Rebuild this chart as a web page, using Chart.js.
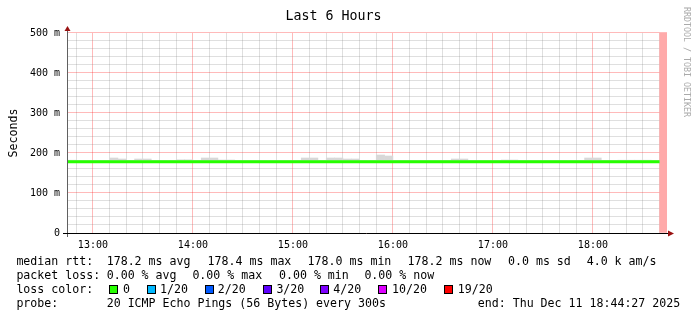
<!DOCTYPE html>
<html>
<head>
<meta charset="utf-8">
<script src="https://cdn.jsdelivr.net/npm/chart.js@4/dist/chart.umd.min.js"></script>
<style>
body { margin: 0; background: #fff; }
#wrap { position: relative; width: 697px; height: 321px; overflow: hidden; }
#graph { position: absolute; left: 0; top: 0; }
.t { position: absolute; font-family: "DejaVu Sans Mono", monospace; font-size: 11.6px; line-height: 14px; white-space: pre; color: #000; }
.sq { position: absolute; box-sizing: border-box; width: 9px; height: 9px; border: 1px solid #000; }
.wm { position: absolute; font-family: "DejaVu Sans Mono", monospace; font-size: 8.3px; line-height: 10px; white-space: pre; color: #aaa; writing-mode: vertical-rl; }
</style>
</head>
<body>
<div id="wrap">
<canvas id="graph" width="697" height="321"></canvas>
</div>
<script>

// time window of the graph
const rangeStart = "12:44:27"
const rangeEnd = "18:44:27"

// one sample every 5 minutes, first bin ends at 12:40
const firstBinEnd = "12:40"
const stepMinutes = 5

// median rtt per bin (ms)
const medianRtt = [
    178.2, 178.2, 178.2, 178.2, 178.2, 178.2, 178.2, 178.3, 178.2, 178.2,
    178.2, 178.2, 178.2, 178.2, 178.2, 178.2, 178.2, 178.2, 178.3, 178.2,
    178.2, 178.2, 178.2, 178.2, 178.1, 178.2, 178.2, 178.2, 178.2, 178.2,
    178.3, 178.2, 178.2, 178.2, 178.2, 178.2, 178.2, 178.2, 178.2, 178.4,
    178.3, 178.2, 178.2, 178.2, 178.2, 178.2, 178.0, 178.2, 178.2, 178.2,
    178.2, 178.2, 178.2, 178.2, 178.2, 178.2, 178.2, 178.1, 178.2, 178.2,
    178.2, 178.2, 178.2, 178.2, 178.3, 178.2, 178.2, 178.2, 178.2, 178.2,
    178.2, 178.2, 178.2
]

// smoke: lowest and highest ping per bin (ms)
const smokeLow = [
    177.6, 177.6, 177.5, 177.6, 177.6, 177.7, 177.6, 177.5, 177.6, 177.6,
    177.5, 177.6, 177.6, 177.6, 177.7, 177.5, 177.6, 177.6, 177.5, 177.6,
    177.6, 177.6, 177.6, 177.7, 177.6, 177.6, 177.6, 177.6, 177.6, 177.6,
    177.5, 177.6, 177.6, 177.5, 177.6, 177.6, 177.6, 177.6, 177.6, 177.4,
    177.5, 177.6, 177.6, 177.6, 177.6, 177.6, 177.6, 177.6, 177.5, 177.6,
    177.6, 177.6, 177.6, 177.6, 177.6, 177.6, 177.6, 177.6, 177.6, 177.6,
    177.6, 177.6, 177.6, 177.6, 177.5, 177.6, 177.6, 177.6, 177.6, 177.6,
    177.6, 177.6, 177.6
]

const smokeHigh = [
    180.0, 182.0, 182.0, 180.0, 180.0, 180.0, 180.0, 187.5, 185.0, 180.0,
    185.0, 185.0, 180.0, 180.0, 180.0, 183.0, 183.0, 180.0, 187.5, 187.5,
    182.5, 182.5, 180.0, 180.0, 180.0, 180.0, 180.0, 180.0, 180.0, 180.0,
    187.5, 187.5, 180.0, 187.5, 187.5, 185.0, 185.0, 180.0, 180.0, 195.0,
    192.5, 180.0, 180.0, 180.0, 180.0, 180.0, 180.0, 180.0, 185.0, 185.0,
    180.0, 180.0, 180.0, 180.0, 182.5, 182.5, 180.0, 180.0, 180.0, 180.0,
    180.0, 180.0, 180.0, 180.0, 187.5, 187.5, 180.0, 180.0, 182.0, 182.0,
    182.0, 182.0, 180.0
]

// no data after the last complete bin
const noDataStart = "18:40"

// y axis in seconds
const yMax = 0.5
const yMinorStep = 0.02

// legend text
const rttNames = ["avg", "max", "min", "now"]
const rttValues = ["178.2", "178.4", "178.0", "178.2"]
const rttSd = "0.0"
const rttAmS = "4.0 k"
const lossNames = ["avg", "max", "min", "now"]
const lossValues = ["0.00", "0.00", "0.00", "0.00"]
const lossLevels = ["0", "1/20", "2/20", "3/20", "4/20", "10/20", "19/20"]
const lossColors = ["#26ff00", "#00b8ff", "#0059ff", "#5e00ff", "#7e00ff", "#dd00ff", "#ff0000"]
const probeText = "20 ICMP Echo Pings (56 Bytes) every 300s"
const endText = "end: Thu Dec 11 18:44:27 2025"

function toMinutes(s) {

    const p = s.split(":").map(Number)

    return p[0] * 60 + p[1] + (p[2] || 0) / 60

}

function binEnd(i) {

    return toMinutes(firstBinEnd) + i * stepMinutes

}

function isMajorY(v) {

    return Math.round(v * 1000) % 100 === 0

}

const smokeData = smokeHigh.map((h, i) => ({ x: binEnd(i) - stepMinutes / 2, y: [smokeLow[i] / 1000, h / 1000] }))

const medianData = medianRtt.map((v, i) => ({ x: binEnd(i), y: v / 1000 }))

const noData = [{ x: toMinutes(noDataStart) + stepMinutes / 2, y: [0, yMax] }]

const axisPlugin = {

    id: "rrdAxes",

    afterDatasetsDraw(chart) {

        const ctx = chart.ctx
        const a = chart.chartArea

        ctx.save()

        ctx.lineWidth = 1

        ctx.strokeStyle = "#606060"
        ctx.beginPath()
        ctx.moveTo(a.left + 0.5, a.bottom + 4)
        ctx.lineTo(a.left + 0.5, a.top - 4)
        ctx.stroke()

        ctx.strokeStyle = "#000"
        ctx.beginPath()
        ctx.moveTo(a.left - 4, a.bottom + 0.5)
        ctx.lineTo(a.right + 3, a.bottom + 0.5)
        ctx.stroke()

        ctx.fillStyle = "#991111"

        ctx.beginPath()
        ctx.moveTo(a.left - 2.5, a.top - 2)
        ctx.lineTo(a.left + 3.5, a.top - 2)
        ctx.lineTo(a.left + 0.5, a.top - 7)
        ctx.closePath()
        ctx.fill()

        ctx.beginPath()
        ctx.moveTo(a.right + 1, a.bottom - 2.5)
        ctx.lineTo(a.right + 1, a.bottom + 3.5)
        ctx.lineTo(a.right + 7, a.bottom + 0.5)
        ctx.closePath()
        ctx.fill()

        ctx.restore()

    }

}

const chart = new Chart(document.getElementById("graph"), {

    type: "bar",

    data: {

        datasets: [

            {
                type: "line",
                data: medianData,
                borderColor: "#26ff00",
                borderWidth: 3,
                pointRadius: 0,
                tension: 0,
                clip: 0,
                order: 0
            },

            {
                type: "bar",
                data: smokeData,
                backgroundColor: "#d8d8d8",
                borderWidth: 0,
                barPercentage: 1,
                categoryPercentage: 1,
                grouped: false,
                clip: 0,
                order: 1
            },

            {
                type: "bar",
                data: noData,
                backgroundColor: "#ffaaaa",
                borderWidth: 0,
                barPercentage: 1,
                categoryPercentage: 1,
                grouped: false,
                clip: 0,
                order: 2
            }

        ]

    },

    options: {

        responsive: false,
        animation: false,

        layout: { padding: { left: 0, right: 30, top: 0, bottom: 0 } },

        plugins: {

            legend: { display: false },
            tooltip: { enabled: false },

            title: {
                display: true,
                text: "Last 6 Hours",
                color: "#000",
                font: { family: "DejaVu Sans Mono", size: 13.3, weight: "normal", lineHeight: 1.2 },
                padding: { top: 9, bottom: 8 }
            }

        },

        scales: {

            x: {

                type: "linear",
                offset: false,
                min: toMinutes(rangeStart),
                max: toMinutes(rangeEnd),

                afterBuildTicks(scale) {

                    const ticks = []

                    for (let m = Math.ceil(scale.min / 10) * 10; m <= scale.max; m += 10) {
                        ticks.push({ value: m })
                    }

                    scale.ticks = ticks

                },

                afterFit(scale) {

                    scale.height = 88

                },

                border: { display: false },

                grid: {
                    offset: false,
                    drawTicks: false,
                    lineWidth: 1,
                    color: c => (c.tick && c.tick.value % 60 === 0) ? "rgba(255,0,0,0.27)" : "rgba(128,128,128,0.25)"
                },

                ticks: {
                    autoSkip: false,
                    maxRotation: 0,
                    minRotation: 0,
                    padding: 6,
                    color: "#000",
                    font: { family: "DejaVu Sans Mono", size: 10 },
                    callback: v => v % 60 === 0 ? String(v / 60).padStart(2, "0") + ":00" : ""
                }

            },

            y: {

                type: "linear",
                min: 0,
                max: yMax,

                afterBuildTicks(scale) {

                    const ticks = []

                    for (let i = 0; i * yMinorStep <= yMax + 1e-9; i++) {
                        ticks.push({ value: i * yMinorStep })
                    }

                    scale.ticks = ticks

                },

                afterFit(scale) {

                    scale.width = 67

                },

                border: { display: false },

                grid: {
                    drawTicks: false,
                    lineWidth: 1,
                    color: c => (c.tick && isMajorY(c.tick.value)) ? "rgba(255,0,0,0.27)" : "rgba(128,128,128,0.25)"
                },

                ticks: {
                    autoSkip: false,
                    padding: 7,
                    color: "#000",
                    font: { family: "DejaVu Sans Mono", size: 10 },
                    callback: v => {
                        if (!isMajorY(v)) return ""
                        const ms = Math.round(v * 1000)
                        return ms === 0 ? "0" : ms + " m"
                    }
                },

                title: {
                    display: true,
                    text: "Seconds",
                    color: "#000",
                    font: { family: "DejaVu Sans Mono", size: 11.6, lineHeight: 1.2 },
                    padding: { top: 7.5, bottom: 0 }
                }

            }

        }

    },

    plugins: [axisPlugin]

})

// text under the graph
const wrap = document.getElementById("wrap")

function addText(x, y, text, cls) {

    const el = document.createElement("div")

    el.className = cls || "t"
    el.style.left = x + "px"
    el.style.top = y + "px"
    el.textContent = text

    wrap.appendChild(el)

    return el

}

const rttX = [106.7, 207.6, 307.6, 407.6]
const lossX = [106.7, 192.4, 279, 364.4]
const squareX = [109, 147, 204.5, 263, 320, 378, 443.5]
const levelX = [123, 160, 217.8, 276.4, 333.3, 392, 457.8]

addText(16.4, 254, "median rtt:")
rttValues.forEach((v, i) => addText(rttX[i], 254, v + " ms " + rttNames[i]))
addText(508, 254, rttSd + " ms sd")
addText(586.7, 254, rttAmS + " am/s")

addText(16.4, 268, "packet loss:")
lossValues.forEach((v, i) => addText(lossX[i], 268, v + " % " + lossNames[i]))

addText(16.4, 282, "loss color:")
lossLevels.forEach((lvl, i) => {

    const sq = document.createElement("div")
    sq.className = "sq"
    sq.style.left = squareX[i] + "px"
    sq.style.top = "285px"
    sq.style.background = lossColors[i]
    wrap.appendChild(sq)

    addText(levelX[i], 282, lvl)

})

addText(16.4, 296, "probe:")
addText(106.7, 296, probeText)
addText(477.8, 296, endText)

addText(681.8, 6.7, "RRDTOOL / TOBI OETIKER", "wm")

</script>
</body>
</html>
